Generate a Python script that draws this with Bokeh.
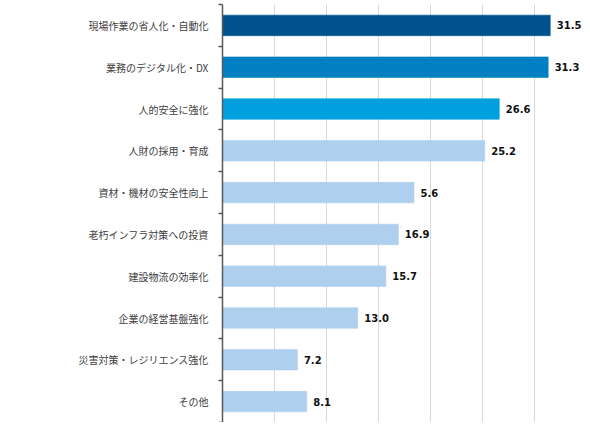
from bokeh.plotting import figure
from bokeh.models import Range1d, FixedTicker, ColumnDataSource
from bokeh.core.properties import value
from bokeh.embed import file_html
from bokeh.resources import INLINE

categories = ["現場作業の省人化・自動化", "業務のデジタル化・DX", "人的安全に強化", "人財の採用・育成",
              "資材・機材の安全性向上", "老朽インフラ対策への投資", "建設物流の効率化", "企業の経営基盤強化",
              "災害対策・レジリエンス強化", "その他"]
bar_values = [31.5, 31.3, 26.6, 25.2, 18.4, 16.9, 15.7, 13.0, 7.2, 8.1]
value_labels = ["31.5", "31.3", "26.6", "25.2", "5.6", "16.9", "15.7", "13.0", "7.2", "8.1"]
bar_colors = ["#00528E", "#0080C2", "#00A0E0"] + ["#AECFEE"] * 7
x_ticks = [5, 10, 15, 20, 25, 30, 35]

n = len(categories)
ypos = [i + 0.5 for i in range(n)]
src = ColumnDataSource(dict(y=ypos, v=bar_values, lab=value_labels, c=bar_colors))

p = figure(width=582, height=422, output_backend="svg", toolbar_location=None,
           x_range=Range1d(0, 34.6), y_range=Range1d(n, 0),
           min_border_left=222, min_border_right=0, min_border_top=4, min_border_bottom=0)
p.outline_line_color = None
p.background_fill_color = "white"
p.border_fill_color = "white"

p.xaxis.visible = False
p.xgrid.ticker = FixedTicker(ticks=x_ticks)
p.xgrid.grid_line_color = "#D9D9D9"
p.xgrid.grid_line_width = 1
p.ygrid.grid_line_color = None

yax = p.yaxis[0]
yax.ticker = FixedTicker(ticks=ypos, minor_ticks=list(range(n + 1)))
yax.major_label_overrides = {y: c for y, c in zip(ypos, categories)}
yax.major_tick_line_color = None
yax.major_tick_out = 0
yax.major_tick_in = 0
yax.minor_tick_line_color = "#595959"
yax.minor_tick_line_width = 1.5
yax.minor_tick_out = 4
yax.minor_tick_in = 0
yax.axis_line_color = "#595959"
yax.axis_line_width = 1.5
yax.major_label_standoff = 10
yax.major_label_text_font = "Noto Sans CJK JP"
yax.major_label_text_font_size = "10px"
yax.major_label_text_color = "#404040"

p.hbar(y="y", right="v", left=0, height=0.49, fill_color="c", line_color="c",
       line_alpha=0.6, source=src)

p.text(x="v", y="y", text="lab", source=src, x_offset=6.5,
       text_font=value("DejaVu Sans"), text_font_style="bold", text_font_size="10px",
       text_color="#111111", text_align="left", text_baseline="middle")

open("out.html", "w").write(file_html(p, INLINE))
